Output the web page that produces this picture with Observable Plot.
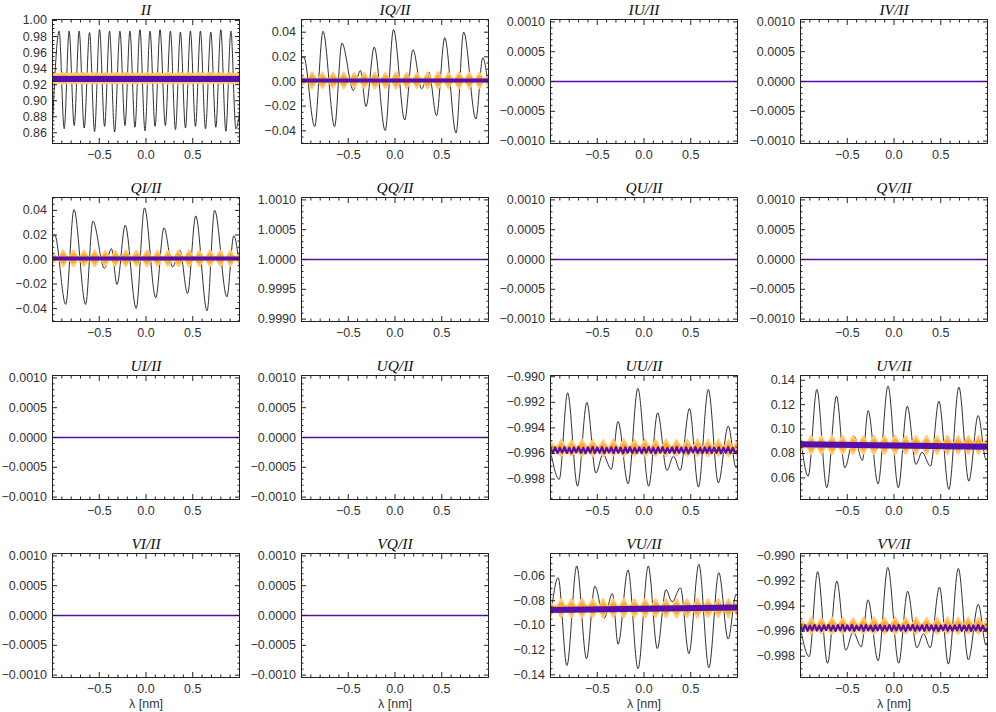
<!DOCTYPE html>
<html><head><meta charset="utf-8">
<script src="https://cdn.jsdelivr.net/npm/d3@7"></script>
<script src="https://cdn.jsdelivr.net/npm/@observablehq/plot@0.6"></script>
<style>
body{margin:0;background:#fff;}
#wrap{position:relative;width:996px;height:712px;overflow:hidden;background:#fff;}
</style></head><body><div id="wrap"></div><script>
// ---------- data ----------
const titles = ["II","IQ/II","IU/II","IV/II","QI/II","QQ/II","QU/II","QV/II","UI/II","UQ/II","UU/II","UV/II","VI/II","VQ/II","VU/II","VV/II"];
const xMajor = [-0.5, 0.0, 0.5];
const xLabel = "λ [nm]";

const ticksII = [0.86, 0.88, 0.90, 0.92, 0.94, 0.96, 0.98, 1.00];
const ticksIQ = [-0.04, -0.02, 0.00, 0.02, 0.04];
const ticksZero = [-0.0010, -0.0005, 0.0000, 0.0005, 0.0010];
const ticksQQ = [0.9990, 0.9995, 1.0000, 1.0005, 1.0010];
const ticksUU = [-0.998, -0.996, -0.994, -0.992, -0.990];
const ticksUV = [0.06, 0.08, 0.10, 0.12, 0.14];
const ticksVU = [-0.14, -0.12, -0.10, -0.08, -0.06];

// black curves: local extrema
const iiX = [-1.000,-0.929,-0.875,-0.822,-0.768,-0.715,-0.661,-0.604,-0.550,-0.497,-0.443,-0.390,-0.336,-0.279,-0.225,-0.172,-0.118,-0.065,-0.011,0.043,0.097,0.150,0.207,0.261,0.315,0.368,0.422,0.475,0.529,0.582,0.636,0.693,0.747,0.800,0.854,0.908,0.961,1.000];
const iiY = [0.8700,0.9867,0.8650,0.9867,0.8690,0.9867,0.8660,0.9850,0.8615,0.9885,0.8680,0.9867,0.8610,0.9867,0.8690,0.9867,0.8670,0.9885,0.8625,0.9867,0.8680,0.9885,0.8690,0.9867,0.8640,0.9855,0.8660,0.9867,0.8680,0.9867,0.8650,0.9855,0.8670,0.9885,0.8620,0.9867,0.8650,0.8850];

const iqX = [-1.000,-0.976,-0.859,-0.770,-0.646,-0.568,-0.445,-0.370,-0.310,-0.222,-0.105,-0.016,0.104,0.192,0.285,0.362,0.444,0.532,0.653,0.734,0.865,0.939,1.000];
const iqY = [0.0180,0.0200,-0.0366,0.0407,-0.0366,0.0312,-0.0073,0.0089,-0.0203,0.0279,-0.0399,0.0421,-0.0312,0.0258,-0.0060,0.0076,-0.0277,0.0355,-0.0418,0.0401,-0.0304,0.0193,-0.0060];

const uuX = [-1.000,-0.907,-0.817,-0.711,-0.611,-0.515,-0.438,-0.350,-0.278,-0.170,-0.066,0.050,0.146,0.245,0.316,0.387,0.486,0.582,0.688,0.795,0.901,0.985,1.000];
const uuY = [-0.99580,-0.99803,-0.99125,-0.99856,-0.99200,-0.99753,-0.99605,-0.99725,-0.99350,-0.99837,-0.99091,-0.99856,-0.99282,-0.99733,-0.99621,-0.99733,-0.99248,-0.99863,-0.99099,-0.99830,-0.99386,-0.99712,-0.99690];

const uvX = [-1.000,-0.918,-0.825,-0.719,-0.615,-0.526,-0.427,-0.338,-0.277,-0.171,-0.064,0.046,0.142,0.235,0.300,0.390,0.480,0.587,0.694,0.800,0.900,0.985,1.000];
const uvY = [0.0940,0.0614,0.1325,0.0519,0.1270,0.0683,0.0942,0.0743,0.1152,0.0551,0.1352,0.0519,0.1188,0.0710,0.0810,0.0696,0.1229,0.0505,0.1344,0.0573,0.1111,0.0751,0.0760];

const vuX = [-1.000,-0.918,-0.825,-0.719,-0.615,-0.526,-0.427,-0.338,-0.277,-0.171,-0.064,0.046,0.142,0.235,0.300,0.390,0.480,0.587,0.694,0.800,0.900,0.985,1.000];
const vuY = [-0.0940,-0.0614,-0.1325,-0.0519,-0.1270,-0.0683,-0.0942,-0.0743,-0.1152,-0.0551,-0.1352,-0.0519,-0.1188,-0.0710,-0.0810,-0.0696,-0.1229,-0.0505,-0.1344,-0.0573,-0.1111,-0.0751,-0.0760];

// orange curves: lobe centres and nodes, with half-heights
const orX = [-1.000,-0.934,-0.881,-0.826,-0.771,-0.715,-0.658,-0.600,-0.543,-0.487,-0.431,-0.378,-0.324,-0.267,-0.210,-0.153,-0.097,-0.040,0.017,0.074,0.130,0.185,0.240,0.297,0.354,0.410,0.467,0.522,0.576,0.634,0.691,0.746,0.800,0.855,0.910,0.960,1.000];
const orIIHalf = [0.0074,0.0066,0.0077,0.0065,0.0076,0.0067,0.0078,0.0066,0.0075,0.0065,0.0077,0.0066,0.0076,0.0067,0.0078,0.0065,0.0076,0.0066,0.0077,0.0067,0.0075,0.0066,0.0078,0.0065,0.0076,0.0067,0.0077,0.0066,0.0075,0.0065,0.0078,0.0066,0.0076,0.0067,0.0077,0.0066,0.0074];
const orIQHalf = [0.0062,0.0017,0.0075,0.0018,0.0072,0.0017,0.0070,0.0018,0.0073,0.0017,0.0068,0.0018,0.0071,0.0017,0.0073,0.0018,0.0070,0.0017,0.0075,0.0018,0.0071,0.0017,0.0069,0.0018,0.0073,0.0017,0.0076,0.0018,0.0071,0.0017,0.0074,0.0018,0.0072,0.0017,0.0070,0.0018,0.0060];
const orUVHalf = [0.0070,0.0024,0.0083,0.0025,0.0081,0.0024,0.0084,0.0025,0.0080,0.0024,0.0082,0.0025,0.0079,0.0024,0.0083,0.0025,0.0081,0.0024,0.0084,0.0025,0.0080,0.0024,0.0082,0.0025,0.0083,0.0024,0.0081,0.0025,0.0084,0.0024,0.0080,0.0025,0.0082,0.0024,0.0083,0.0025,0.0070];
const orUUUp = [0.00075,0.00022,0.00090,0.00023,0.00085,0.00022,0.00092,0.00023,0.00088,0.00022,0.00086,0.00023,0.00090,0.00022,0.00093,0.00023,0.00087,0.00022,0.00091,0.00023,0.00088,0.00022,0.00092,0.00023,0.00086,0.00022,0.00090,0.00023,0.00093,0.00022,0.00087,0.00023,0.00091,0.00022,0.00088,0.00023,0.00080];
const orUUDown = [0.00055,0.00022,0.00062,0.00023,0.00060,0.00022,0.00064,0.00023,0.00061,0.00022,0.00063,0.00023,0.00060,0.00022,0.00065,0.00023,0.00062,0.00022,0.00064,0.00023,0.00061,0.00022,0.00063,0.00023,0.00060,0.00022,0.00064,0.00023,0.00062,0.00022,0.00065,0.00023,0.00061,0.00022,0.00063,0.00023,0.00060];
const orMidII = 0.9273, orMidIQ = 0.0005, orMidUU = -0.99572, orMidUV = 0.0865, orMidVU = -0.0865;

// purple curves
const purpleEndsX = [-1.0, 1.0];
const purpleII = [0.9272, 0.9272];
const purpleIQ = [0.0008, 0.0008];
const purpleZero = [0.0, 0.0];
const purpleQQ = [1.0, 1.0];
const purpleUV = [0.0875, 0.0855];
const purpleVU = [-0.0875, -0.0855];
const purpleZigUU = [-0.99560,-0.99594,-0.99552,-0.99597,-0.99555,-0.99593,-0.99551,-0.99596,-0.99556,-0.99598,-0.99553,-0.99592,-0.99550,-0.99596,-0.99555,-0.99599,-0.99552,-0.99594,-0.99549,-0.99597,-0.99554,-0.99595,-0.99551,-0.99598,-0.99556,-0.99593,-0.99552,-0.99597,-0.99550,-0.99595,-0.99555,-0.99599,-0.99553,-0.99594,-0.99551,-0.99597,-0.99556,-0.99595,-0.99552,-0.99598,-0.99554,-0.99593,-0.99550,-0.99596,-0.99555,-0.99599,-0.99552,-0.99594,-0.99551,-0.99597,-0.99556,-0.99595,-0.99553,-0.99598,-0.99550,-0.99594,-0.99555,-0.99597,-0.99552,-0.99599,-0.99554,-0.99593,-0.99551,-0.99596,-0.99556,-0.99598,-0.99553,-0.99594,-0.99550,-0.99597,-0.99555,-0.99595,-0.99552,-0.99599,-0.99554,-0.99594,-0.99551,-0.99597,-0.99556,-0.99595,-0.99580];

// ---------- panel configuration ----------
const zeroCfg = {dom:[-0.00104,0.00104], ticks:ticksZero, fmt:".4f", minor:0.0001, purple:[purpleEndsX, purpleZero, 1.4]};
const cfgs = [
  {dom:[0.8467,1.0012], ticks:ticksII, fmt:".2f", minor:0.005, black:[iiX,iiY], orange:[orMidII,orIIHalf,orIIHalf,"monotone-x"], purple:[purpleEndsX,purpleII,6]},
  {dom:[-0.0503,0.0503], ticks:ticksIQ, fmt:".2f", minor:0.005, black:[iqX,iqY], orange:[orMidIQ,orIQHalf,orIQHalf,"monotone-x"], purple:[purpleEndsX,purpleIQ,4]},
  zeroCfg, zeroCfg,
  {dom:[-0.0505,0.0505], ticks:ticksIQ, fmt:".2f", minor:0.005, black:[iqX,iqY], orange:[orMidIQ,orIQHalf,orIQHalf,"monotone-x"], purple:[purpleEndsX,purpleIQ,4]},
  {dom:[0.99896,1.00104], ticks:ticksQQ, fmt:".4f", minor:0.0001, purple:[purpleEndsX,purpleQQ,1.4]},
  zeroCfg, zeroCfg, zeroCfg, zeroCfg,
  {dom:[-0.9996,-0.9899], ticks:ticksUU, fmt:".3f", minor:0.0005, black:[uuX,uuY], orange:[orMidUU,orUUUp,orUUDown,"linear"], zig:purpleZigUU},
  {dom:[0.0423,0.1439], ticks:ticksUV, fmt:".2f", minor:0.005, black:[uvX,uvY], orange:[orMidUV,orUVHalf,orUVHalf,"monotone-x"], purple:[purpleEndsX,purpleUV,6]},
  zeroCfg, zeroCfg,
  {dom:[-0.1422,-0.0418], ticks:ticksVU, fmt:".2f", minor:0.005, black:[vuX,vuY], orange:[orMidVU,orUVHalf,orUVHalf,"monotone-x"], purple:[purpleEndsX,purpleVU,6]},
  {dom:[-0.9997,-0.9898], ticks:ticksUU, fmt:".3f", minor:0.0005, black:[uuX,uuY], orange:[orMidUU,orUUUp,orUUDown,"linear"], zig:purpleZigUU}
];

const PURPLE = "#560fae";
const colLeft = [0, 249, 498, 748];
const rowTop = [0, 178, 356, 534];

function minorTicks(dom, step, majors) {
  const out = [];
  const s = Math.ceil(dom[0] / step), e = Math.floor(dom[1] / step);
  for (let k = s; k <= e; k++) {
    const v = k * step;
    if (!majors.some(m => Math.abs(m - v) < step * 0.01)) out.push(v);
  }
  return out;
}
const xMinor = minorTicks([-1, 1], 0.1, xMajor);

const wrap = document.getElementById("wrap");
cfgs.forEach((c, i) => {
  const col = i % 4, row = Math.floor(i / 4);
  const marks = [];
  if (c.black) {
    const [bx, by] = c.black;
    marks.push(Plot.line(bx.map((x, j) => ({x, y: by[j]})), {x: "x", y: "y", curve: "monotone-x", stroke: "#1a1a1a", strokeWidth: 0.9, clip: true}));
  }
  if (c.orange) {
    const [mid, up, down, curve] = c.orange;
    const outer = orX.map((x, j) => ({x, lo: mid - down[j], hi: mid + up[j]}));
    const inner = orX.map((x, j) => ({x, lo: mid - 0.6 * down[j], hi: mid + 0.6 * up[j]}));
    marks.push(Plot.areaY(outer, {x: "x", y1: "lo", y2: "hi", curve, fill: "#ffcb74", clip: true}));
    marks.push(Plot.areaY(inner, {x: "x", y1: "lo", y2: "hi", curve, fill: "#ffab2e", clip: true}));
  }
  if (c.purple) {
    const [px, py, w] = c.purple;
    marks.push(Plot.line(px.map((x, j) => ({x, y: py[j]})), {x: "x", y: "y", stroke: PURPLE, strokeWidth: w, clip: true}));
  }
  if (c.zig) {
    const n = c.zig.length;
    marks.push(Plot.line(c.zig.map((y, j) => ({x: -1 + 2 * j / (n - 1), y})), {x: "x", y: "y", stroke: PURPLE, strokeWidth: 2.2, clip: true}));
  }
  const yMinor = minorTicks(c.dom, c.minor, c.ticks);
  marks.push(
    Plot.frame({stroke: "#222", strokeWidth: 1}),
    Plot.axisX(xMajor, {anchor: "bottom", tickSize: 5, dy: -5, fill: "none", label: null, stroke: "#222"}),
    Plot.axisX(xMinor, {anchor: "bottom", tickSize: 2.5, dy: -2.5, fill: "none", label: null, stroke: "#222"}),
    Plot.axisX(xMajor, {anchor: "top", tickSize: 5, dy: 5, fill: "none", label: null, stroke: "#222"}),
    Plot.axisX(xMinor, {anchor: "top", tickSize: 2.5, dy: 2.5, fill: "none", label: null, stroke: "#222"}),
    Plot.axisY(c.ticks, {anchor: "left", tickSize: 5, dx: 5, fill: "none", label: null, stroke: "#222"}),
    Plot.axisY(yMinor, {anchor: "left", tickSize: 2.5, dx: 2.5, fill: "none", label: null, stroke: "#222"}),
    Plot.axisY(c.ticks, {anchor: "right", tickSize: 5, dx: -5, fill: "none", label: null, stroke: "#222"}),
    Plot.axisY(yMinor, {anchor: "right", tickSize: 2.5, dx: -2.5, fill: "none", label: null, stroke: "#222"}),
    Plot.axisX(xMajor, {anchor: "bottom", tickSize: 0, tickPadding: 7, tickFormat: d3.format(".1f"), label: null, fontSize: 12.5, fill: "#333"}),
    Plot.axisY(c.ticks, {anchor: "left", tickSize: 0, tickPadding: 5.5, tickFormat: d3.format(c.fmt), label: null, fontSize: 12.5, fill: "#333"}),
    Plot.text([titles[i]], {text: d => d, frameAnchor: "top", dy: -5, lineAnchor: "bottom", fontStyle: "italic", fontFamily: "Liberation Serif", fontSize: 15.5, fill: "#111", ariaLabel: "panel-title"})
  );
  if (row === 3) {
    marks.push(Plot.text([xLabel], {text: d => d, frameAnchor: "bottom", dy: 26, lineAnchor: "middle", fontSize: 12.5, fill: "#333"}));
  }
  const svg = Plot.plot({
    width: 249, height: 178,
    marginLeft: 52, marginRight: 10, marginTop: 19, marginBottom: 35,
    x: {domain: [-1, 1]},
    y: {domain: c.dom},
    style: {fontFamily: "'Liberation Sans', Arial, sans-serif", fontSize: "12px", color: "#222", background: "transparent", overflow: "visible"},
    marks
  });
  svg.style.position = "absolute";
  svg.style.left = colLeft[col] + "px";
  svg.style.top = rowTop[row] + "px";
  svg.querySelectorAll('g[aria-label="panel-title"] text').forEach(t => t.setAttribute("letter-spacing", "2.5"));
  wrap.appendChild(svg);
});
</script></body></html>
